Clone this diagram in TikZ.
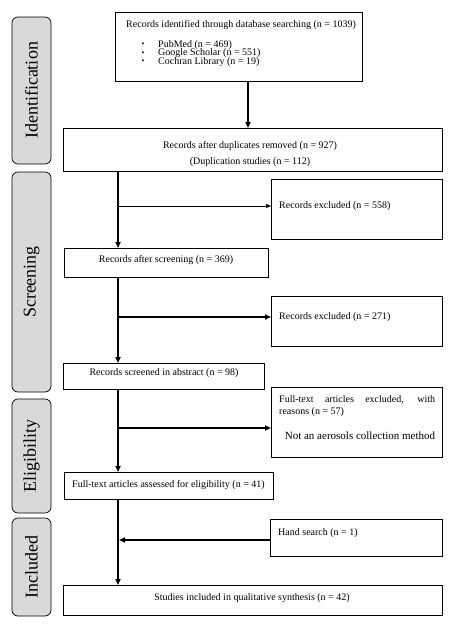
\documentclass[tikz,border=0pt]{standalone}
\usepackage{fontspec}
\setmainfont{Liberation Serif}
\usetikzlibrary{arrows.meta}
\definecolor{sidegray}{HTML}{D9D9D9}
\begin{document}
\begin{tikzpicture}[x=1pt,y=-1pt,
  box/.style={draw, line width=0.8pt, anchor=north west, inner sep=0pt, outer sep=0pt},
  side/.style={draw, line width=0.7pt, fill=sidegray, rounded corners=6pt, anchor=north west, inner sep=0pt, outer sep=0pt},
  sidelabel/.style={rotate=90, font=\fontsize{18}{21}\selectfont, inner sep=0pt},
  txt/.style={font=\fontsize{10}{12}\selectfont, inner sep=0pt},
  bul/.style={font=\fontsize{8}{9}\selectfont, inner sep=0pt},
  trunk/.style={line width=1.8pt, -{Triangle[length=6pt,width=5pt]}},
  branch/.style={line width=1.0pt, -{Triangle[length=5pt,width=4pt]}},
  branchthick/.style={line width=1.6pt, -{Triangle[length=6pt,width=5pt]}}]
\useasboundingbox (0,0) rectangle (454,624);
% side phase boxes
\node[side, minimum width=39pt, minimum height=147pt] (s1) at (12,17) {};
\node[side, minimum width=39pt, minimum height=220pt] (s2) at (12,172) {};
\node[side, minimum width=39pt, minimum height=114pt] (s3) at (12,399) {};
\node[side, minimum width=39pt, minimum height=98pt] (s4) at (12,518) {};
\node[sidelabel] (l1) at (s1.center) {Identification};
\node[sidelabel] (l2) at (s2.center) {Screening};
\node[sidelabel] (l3) at (s3.center) {Eligibility};
\node[sidelabel] (l4) at (s4.center) {Included};
% main boxes
\node[box, minimum width=247pt, minimum height=69pt] (b1) at (115,12) {};
\node[box, minimum width=379pt, minimum height=43pt] (b2) at (63,128) {};
\node[box, minimum width=171pt, minimum height=60pt] (e1) at (271,179) {};
\node[box, minimum width=204pt, minimum height=29pt] (b3) at (64,248) {};
\node[box, minimum width=171pt, minimum height=50pt] (e2) at (271,296) {};
\node[box, minimum width=201pt, minimum height=26pt] (b4) at (63,363) {};
\node[box, minimum width=171pt, minimum height=70pt] (e3) at (271,387) {};
\node[box, minimum width=209pt, minimum height=27pt] (b5) at (64,472) {};
\node[box, minimum width=172pt, minimum height=37pt] (e4) at (270,519) {};
\node[box, minimum width=379pt, minimum height=30pt] (b6) at (63,585) {};
% texts
\node[txt, anchor=mid west] (t1) at (126,25) {Records identified through database searching (n = 1039)};
\node[bul] (u1) at (143,45) {•};
\node[bul] (u2) at (143,53.5) {•};
\node[bul] (u3) at (143,62) {•};
\node[txt, anchor=mid west] (t2) at (158,45) {PubMed (n = 469)};
\node[txt, anchor=mid west] (t3) at (158,53.5) {Google Scholar (n = 551)};
\node[txt, anchor=mid west] (t4) at (158,62) {Cochran Library (n = 19)};
\node[txt, anchor=mid] (t5) at (250,146) {Records after duplicates removed (n = 927)};
\node[txt, anchor=mid] (t6) at (250,162) {(Duplication studies (n = 112)};
\node[txt, anchor=mid west] (t7) at (279,206) {Records excluded (n = 558)};
\node[txt, anchor=mid] (t8) at (166,260) {Records after screening (n = 369)};
\node[txt, anchor=mid west] (t9) at (279,317) {Records excluded (n = 271)};
\node[txt, anchor=mid] (t10) at (164,373) {Records screened in abstract (n = 98)};
\node[txt, anchor=mid west] (t11) at (279,400) {\makebox[156pt][s]{Full-text articles excluded, with}};
\node[txt, anchor=mid west] (t12) at (279,412) {reasons (n = 57)};
\node[font=\fontsize{11}{13}\selectfont, inner sep=0pt, anchor=mid] (t13) at (360,437) {Not an aerosols collection method};
\node[txt, anchor=mid west] (t14) at (72,485) {Full-text articles assessed for eligibility (n = 41)};
\node[txt, anchor=mid west] (t15) at (278,533) {Hand search (n = 1)};
\node[txt, anchor=mid] (t16) at (252,598) {Studies included in qualitative synthesis (n = 42)};
% connectors
\coordinate (tx) at (118,0);
\coordinate (cx) at (248,0);
\draw[trunk] (b1.south -| cx) -- (b2.north -| cx);
\draw[trunk] (b2.south -| tx) -- (b3.north -| tx);
\draw[trunk] (b3.south -| tx) -- (b4.north -| tx);
\draw[trunk] (b4.south -| tx) -- (b5.north -| tx);
\draw[trunk] (b5.south -| tx) -- (b6.north -| tx);
\coordinate (j1) at (118,206);
\coordinate (j2) at (118,317);
\coordinate (j3) at (118,428);
\coordinate (j4) at (119,540);
\draw[branch] (j1) -- (e1.west |- j1);
\draw[branchthick] (j2) -- (e2.west |- j2);
\draw[branchthick] (j3) -- (e3.west |- j3);
\draw[branchthick] (e4.west |- j4) -- (j4);
\end{tikzpicture}
\end{document}
